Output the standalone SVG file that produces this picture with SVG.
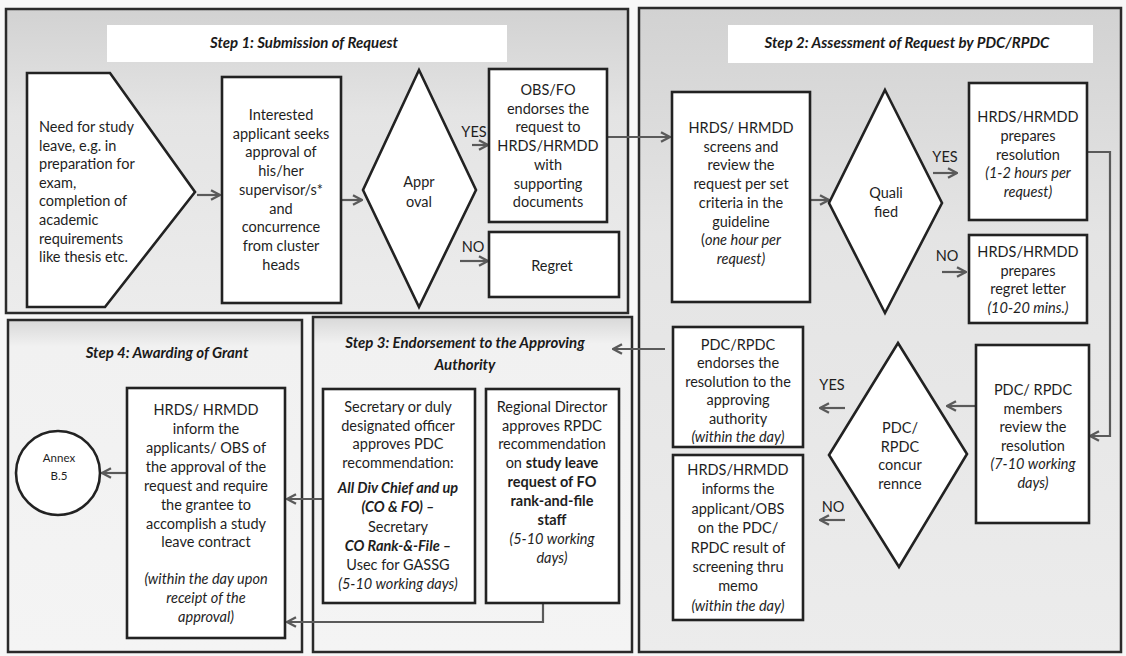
<svg xmlns="http://www.w3.org/2000/svg" width="1126" height="656" viewBox="0 0 1126 656">
  <defs>
    <style>
      .panel { stroke: #2a2a2a; stroke-width: 2.5; }
      .node { fill: #ffffff; stroke: #222222; stroke-width: 2.6; }
      .bar { fill: #ffffff; }
      .conn { fill: none; stroke: #5a5a5a; stroke-width: 2.2; }
      .t { font-family: Lato, "Liberation Sans", sans-serif; font-size: 14.5px; fill: #1e1e1e; text-anchor: middle; }
      .l { text-anchor: start; }
      .i { font-style: italic; }
      .b { font-weight: bold; }
      .h { font-family: Lato, "Liberation Sans", sans-serif; font-size: 15px; font-weight: bold; font-style: italic; fill: #1a1a1a; text-anchor: middle; }
      .s { font-size: 11.5px; }
    </style>
    <linearGradient id="gTop" x1="0" y1="0" x2="0" y2="1">
      <stop offset="0" stop-color="#d2d2d2"/>
      <stop offset="0.35" stop-color="#e4e4e4"/>
      <stop offset="1" stop-color="#ececec"/>
    </linearGradient>
    <linearGradient id="gBot" x1="0" y1="0" x2="0" y2="1">
      <stop offset="0" stop-color="#d8d8d8"/>
      <stop offset="0.08" stop-color="#f1f1f1"/>
      <stop offset="1" stop-color="#f4f4f4"/>
    </linearGradient>
    <marker id="arr" viewBox="0 0 10 10" refX="9" refY="5" markerWidth="12" markerHeight="12" markerUnits="userSpaceOnUse" orient="auto">
      <path d="M1.5,1 L9,5 L1.5,9" fill="none" stroke="#5a5a5a" stroke-width="2"/>
    </marker>
  </defs>

  <rect width="1126" height="656" fill="#f7f7f7"/>

  <!-- stage panels -->
  <g id="panels">
    <rect class="panel" x="6" y="9" width="622" height="304" fill="url(#gTop)"/>
    <rect class="panel" x="639" y="8" width="482" height="644" fill="url(#gTop)"/>
    <rect class="panel" x="313" y="317" width="319" height="335" fill="url(#gBot)"/>
    <rect class="panel" x="8" y="320" width="294" height="332" fill="url(#gBot)"/>
    <rect class="bar" x="107" y="25" width="400" height="37"/>
    <rect class="bar" x="728" y="25" width="365" height="38"/>
    <text class="h" x="304" y="48">Step 1: Submission of Request</text>
    <text class="h" x="907" y="48">Step 2: Assessment of Request by PDC/RPDC</text>
    <text class="h" x="465" y="348">Step 3: Endorsement to the Approving</text>
    <text class="h" x="465" y="370">Authority</text>
    <text class="h" x="167" y="358">Step 4: Awarding of Grant</text>
  </g>

  <!-- connectors -->
  <g id="connectors">
    <path class="conn" marker-end="url(#arr)" d="M197,195 H220"/>
    <path class="conn" marker-end="url(#arr)" d="M341,200 H362"/>
    <path class="conn" marker-end="url(#arr)" d="M472,145 H488"/>
    <path class="conn" marker-end="url(#arr)" d="M460,261 H488"/>
    <path class="conn" marker-end="url(#arr)" d="M607,137 H670"/>
    <path class="conn" marker-end="url(#arr)" d="M810,200 H829"/>
    <path class="conn" marker-end="url(#arr)" d="M933,173 H957"/>
    <path class="conn" marker-end="url(#arr)" d="M942,272 H966"/>
    <path class="conn" marker-end="url(#arr)" d="M1087,152 H1110 V436 H1090"/>
    <path class="conn" marker-end="url(#arr)" d="M975,406 H947"/>
    <path class="conn" marker-end="url(#arr)" d="M845,408 H820"/>
    <path class="conn" marker-end="url(#arr)" d="M845,520 H820"/>
    <path class="conn" marker-end="url(#arr)" d="M665,349 H613"/>
    <path class="conn" marker-end="url(#arr)" d="M323,499 H287"/>
    <path class="conn" marker-end="url(#arr)" d="M543,603 V622 H287"/>
    <path class="conn" marker-end="url(#arr)" d="M127,473 H102"/>
    <text class="t" x="474" y="137">YES</text>
    <text class="t" x="473" y="252">NO</text>
    <text class="t" x="945" y="162">YES</text>
    <text class="t" x="947" y="261">NO</text>
    <text class="t" x="832" y="390">YES</text>
    <text class="t" x="833" y="512">NO</text>
  </g>

  <!-- Step 1 -->
  <g id="need">
    <path class="node" d="M27,73 H110 L195,192 L105,307 H27 Z"/>
    <text class="t l" x="39" y="132">Need for study</text>
    <text class="t l" x="39" y="150.6">leave, e.g. in</text>
    <text class="t l" x="39" y="169.2">preparation for</text>
    <text class="t l" x="39" y="187.8">exam,</text>
    <text class="t l" x="39" y="206.4">completion of</text>
    <text class="t l" x="39" y="225">academic</text>
    <text class="t l" x="39" y="243.6">requirements</text>
    <text class="t l" x="39" y="262.2">like thesis etc.</text>
  </g>

  <g id="seek">
    <rect class="node" x="222" y="77" width="119" height="226"/>
    <text class="t" x="281" y="120">Interested</text>
    <text class="t" x="281" y="138.7">applicant seeks</text>
    <text class="t" x="281" y="157.4">approval of</text>
    <text class="t" x="281" y="176.1">his/her</text>
    <text class="t" x="281" y="194.8">supervisor/s*</text>
    <text class="t" x="281" y="213.5">and</text>
    <text class="t" x="281" y="232.2">concurrence</text>
    <text class="t" x="281" y="250.9">from cluster</text>
    <text class="t" x="281" y="269.6">heads</text>
  </g>

  <g id="approval">
    <path class="node" d="M419,70 L476,190 L419,307 L363,190 Z"/>
    <text class="t" x="419" y="187">Appr</text>
    <text class="t" x="419" y="207">oval</text>
  </g>

  <g id="endorse-obs">
    <rect class="node" x="489" y="69" width="118" height="153"/>
    <text class="t" x="548" y="95">OBS/FO</text>
    <text class="t" x="548" y="113.7">endorses the</text>
    <text class="t" x="548" y="132.4">request to</text>
    <text class="t" x="548" y="151.1">HRDS/HRMDD</text>
    <text class="t" x="548" y="169.8">with</text>
    <text class="t" x="548" y="188.5">supporting</text>
    <text class="t" x="548" y="207.2">documents</text>
  </g>

  <g id="regret">
    <rect class="node" x="489" y="232" width="130" height="65"/>
    <text class="t" x="552" y="271">Regret</text>
  </g>

  <!-- Step 2 -->
  <g id="screen">
    <rect class="node" x="672" y="92" width="138" height="210"/>
    <text class="t" x="741" y="133">HRDS/ HRMDD</text>
    <text class="t" x="741" y="151.7">screens and</text>
    <text class="t" x="741" y="170.4">review the</text>
    <text class="t" x="741" y="189.1">request per set</text>
    <text class="t" x="741" y="207.8">criteria in the</text>
    <text class="t" x="741" y="226.5">guideline</text>
    <text class="t" x="741" y="245.2">(<tspan class="i">one hour per</tspan></text>
    <text class="t i" x="741" y="263.9">request)</text>
  </g>

  <g id="qualified">
    <path class="node" d="M885,90 L942,203 L885,313 L829,203 Z"/>
    <text class="t" x="886" y="198">Quali</text>
    <text class="t" x="886" y="217">fied</text>
  </g>

  <g id="resolution">
    <rect class="node" x="969" y="83" width="118" height="137"/>
    <text class="t" x="1028" y="122">HRDS/HRMDD</text>
    <text class="t" x="1028" y="140.8">prepares</text>
    <text class="t" x="1028" y="159.6">resolution</text>
    <text class="t i" x="1028" y="178.4">(1-2 hours per</text>
    <text class="t i" x="1028" y="197.2">request)</text>
  </g>

  <g id="regret-letter">
    <rect class="node" x="969" y="235" width="118" height="88"/>
    <text class="t" x="1028" y="257">HRDS/HRMDD</text>
    <text class="t" x="1028" y="275.7">prepares</text>
    <text class="t" x="1028" y="294.4">regret letter</text>
    <text class="t i" x="1028" y="313.1">(10-20 mins.)</text>
  </g>

  <g id="members-review">
    <rect class="node" x="976" y="345" width="113" height="178"/>
    <text class="t" x="1033" y="395">PDC/ RPDC</text>
    <text class="t" x="1033" y="413.6">members</text>
    <text class="t" x="1033" y="432.2">review the</text>
    <text class="t" x="1033" y="450.8">resolution</text>
    <text class="t i" x="1033" y="469.4">(7-10 working</text>
    <text class="t i" x="1033" y="488">days)</text>
  </g>

  <g id="concurrence">
    <path class="node" d="M898,343 L967,454 L899,567 L829,455 Z"/>
    <text class="t" x="900" y="433">PDC/</text>
    <text class="t" x="900" y="451.5">RPDC</text>
    <text class="t" x="900" y="470">concur</text>
    <text class="t" x="900" y="488.5">rennce</text>
  </g>

  <g id="pdc-endorse">
    <rect class="node" x="673" y="327" width="130" height="120"/>
    <text class="t" x="738" y="350">PDC/RPDC</text>
    <text class="t" x="738" y="368.4">endorses the</text>
    <text class="t" x="738" y="386.8">resolution to the</text>
    <text class="t" x="738" y="405.2">approving</text>
    <text class="t" x="738" y="423.6">authority</text>
    <text class="t i" x="738" y="442">(within the day)</text>
  </g>

  <g id="inform-result">
    <rect class="node" x="673" y="455" width="130" height="165"/>
    <text class="t" x="738" y="475">HRDS/HRMDD</text>
    <text class="t" x="738" y="494.4">informs the</text>
    <text class="t" x="738" y="513.8">applicant/OBS</text>
    <text class="t" x="738" y="533.2">on the PDC/</text>
    <text class="t" x="738" y="552.6">RPDC result of</text>
    <text class="t" x="738" y="572">screening thru</text>
    <text class="t" x="738" y="591.4">memo</text>
    <text class="t i" x="738" y="610.8">(within the day)</text>
  </g>

  <!-- Step 3 -->
  <g id="secretary">
    <rect class="node" x="323" y="389" width="152" height="214"/>
    <text class="t" x="398" y="412">Secretary or duly</text>
    <text class="t" x="398" y="430.5">designated officer</text>
    <text class="t" x="398" y="449">approves PDC</text>
    <text class="t" x="398" y="467.5">recommendation:</text>
    <text class="t b i" x="398" y="493">All Div Chief and up</text>
    <text class="t b i" x="398" y="512">(CO &amp; FO) –</text>
    <text class="t" x="398" y="531.5">Secretary</text>
    <text class="t b i" x="398" y="550.5">CO Rank-&amp;-File –</text>
    <text class="t" x="398" y="570">Usec for GASSG</text>
    <text class="t i" x="398" y="588.5">(5-10 working days)</text>
  </g>

  <g id="regional">
    <rect class="node" x="486" y="389" width="133" height="214"/>
    <text class="t" x="552" y="412">Regional Director</text>
    <text class="t" x="552" y="430.5">approves RPDC</text>
    <text class="t" x="552" y="449">recommendation</text>
    <text class="t" x="552" y="468">on <tspan class="b">study leave</tspan></text>
    <text class="t b" x="552" y="487">request of FO</text>
    <text class="t b" x="552" y="506">rank-and-file</text>
    <text class="t b" x="552" y="525">staff</text>
    <text class="t i" x="552" y="543.5">(5-10 working</text>
    <text class="t i" x="552" y="562.5">days)</text>
  </g>

  <!-- Step 4 -->
  <g id="inform-grantee">
    <rect class="node" x="127" y="388" width="158" height="250"/>
    <text class="t" x="206" y="415">HRDS/ HRMDD</text>
    <text class="t" x="206" y="434">inform the</text>
    <text class="t" x="206" y="453">applicants/ OBS of</text>
    <text class="t" x="206" y="472">the approval of the</text>
    <text class="t" x="206" y="491">request and require</text>
    <text class="t" x="206" y="509.5">the grantee to</text>
    <text class="t" x="206" y="528.5">accomplish a study</text>
    <text class="t" x="206" y="547">leave contract</text>
    <text class="t i" x="206" y="584">(within the day upon</text>
    <text class="t i" x="206" y="603">receipt of the</text>
    <text class="t i" x="206" y="622">approval)</text>
  </g>

  <g id="annex">
    <circle class="node" cx="58" cy="473" r="42"/>
    <text class="t s" x="59" y="462">Annex</text>
    <text class="t s" x="59" y="480">B.5</text>
  </g>
</svg>
